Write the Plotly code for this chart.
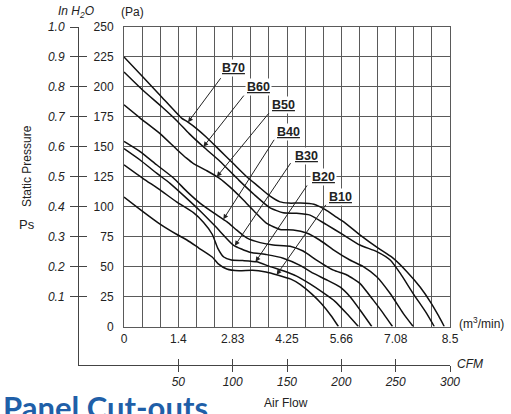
import numpy as np
import plotly.graph_objects as go

# ---------------- data ----------------
series_names = ["B70", "B60", "B50", "B40", "B30", "B20", "B10"]

b70_flow = [0, 0.5, 1.0, 1.5, 1.65, 1.9, 2.15, 2.5, 2.85, 3.2, 3.5, 3.8, 4.07, 4.3, 4.6, 4.95, 5.25, 5.55, 5.72, 6.15, 6.6, 7.0, 7.37, 7.72, 8.0, 8.2, 8.35]
b70_pa = [225, 208, 191, 174, 171, 165, 158, 147, 136, 125, 117, 109, 104, 103, 103, 102, 97.5, 91, 87.5, 76.5, 66, 57.5, 46, 33, 20, 9, 0]

b60_flow = [0, 0.5, 1.0, 1.37, 1.7, 2.07, 2.5, 3.0, 3.4, 3.81, 4.15, 4.5, 4.85, 5.28, 5.72, 6.15, 6.59, 6.94, 7.2, 7.54, 7.89, 8.09]
b60_pa = [212.5, 197, 183, 172, 161, 150, 138, 122, 110, 99, 95, 94.5, 93, 85, 76.5, 68, 62.5, 55.5, 44.5, 27.5, 11, 0]

b50_flow = [0, 0.42, 0.94, 1.37, 1.63, 1.81, 2.16, 2.5, 2.76, 3.1, 3.4, 3.72, 4.07, 4.41, 4.76, 5.11, 5.46, 5.89, 6.24, 6.59, 6.94, 7.28, 7.54]
b50_pa = [185, 174, 161, 148, 140.5, 136, 130, 123.5, 116.5, 106, 96, 86, 81, 80.5, 78, 72, 64, 55.5, 50, 41.5, 27.5, 11, 0]

b40_flow = [0, 0.42, 0.85, 1.29, 1.63, 1.98, 2.33, 2.68, 2.94, 3.2, 3.55, 3.89, 4.33, 4.67, 5.02, 5.46, 5.81, 6.15, 6.5, 6.76, 7.0]
b40_pa = [154.5, 146, 135, 124, 113, 103, 95, 87.5, 80.5, 74, 70, 68, 67, 63, 55.5, 47, 43, 36, 22, 11, 0]

b30_flow = [0, 0.42, 0.85, 1.2, 1.6, 2.0, 2.4, 2.85, 3.28, 3.72, 4.15, 4.59, 4.93, 5.28, 5.63, 5.89, 6.15, 6.46]
b30_pa = [148.5, 139, 128, 119.5, 108, 96, 83, 68, 62, 60, 57, 51, 44.5, 39, 33, 25, 14, 0]

b20_flow = [0, 0.5, 0.94, 1.37, 1.81, 2.07, 2.3, 2.45, 2.6, 2.8, 3.1, 3.46, 3.81, 4.15, 4.5, 4.85, 5.2, 5.5, 5.8, 6.11]
b20_pa = [135, 123.5, 114, 104, 95, 87, 77, 65, 58, 55.5, 55, 54, 50, 46.5, 42, 35.5, 28, 21, 11, 0]

b10_flow = [0, 0.45, 0.94, 1.37, 1.65, 1.95, 2.3, 2.45, 2.68, 3.0, 3.35, 3.7, 4.0, 4.35, 4.6, 4.9, 5.15, 5.4, 5.59]
b10_pa = [108, 97, 85.5, 77, 72, 65.5, 58, 52.5, 48, 46.5, 47, 45.5, 43, 39.5, 35, 27, 19, 9, 0]

m3_tick_labels = ["0", "1.4", "2.83", "4.25", "5.66", "7.08", "8.5"]
m3_max = 8.5
grid_steps = 18
pa_ticks = [0, 25, 50, 75, 100, 125, 150, 175, 200, 225, 250]
h2o_ticks = [0.1, 0.2, 0.3, 0.4, 0.5, 0.6, 0.7, 0.8, 0.9, 1.0]
cfm_ticks = [50, 100, 150, 200, 250, 300]

# ---------------- label placement (layout, not data) ----------------
label_text_pos = [(2.85, 215.5), (3.50, 200.2), (4.15, 184.9), (4.28, 162.6), (4.76, 142.6), (5.20, 124.5), (5.65, 108.3)]
leader_tail = [(2.55, 208.5), (3.155, 194), (3.81, 179.3), (3.94, 157.1), (4.37, 137.6), (4.80, 119), (5.29, 102.8)]
leader_tip_x = [1.67, 2.07, 2.42, 2.59, 2.89, 3.43, 3.98]

# ---------------- geometry (pixels) ----------------
W, H = 511, 414
L, R, T, B = 78, 61, 27, 49          # outer frame: left in-H2O axis, bottom CFM axis
plot_w = W - L - R
plot_h = H - T - B
x0_px = 124                          # x = 0 position
y0_px = 326.5                        # Pa = 0 position
xdom0 = (x0_px - L) / plot_w
ydom0 = (H - B - y0_px) / plot_h
pa_px = (y0_px - T)
y2_lo = -(H - B - y0_px) / pa_px
x2_lo = -(x0_px - L) / (W - R - x0_px) * 300

FONT = "Liberation Sans, Arial, sans-serif"
INK = "#222222"
GRID = "#5a5a5a"

series_data = [(b70_flow, b70_pa), (b60_flow, b60_pa), (b50_flow, b50_pa), (b40_flow, b40_pa),
               (b30_flow, b30_pa), (b20_flow, b20_pa), (b10_flow, b10_pa)]

fig = go.Figure()
for name, (fx, fy) in zip(series_names, series_data):
    fig.add_trace(go.Scatter(x=fx, y=fy, mode="lines", name=name, showlegend=False,
                             hoverinfo="skip",
                             line=dict(color="#111111", width=1.5, shape="spline", smoothing=0.5)))

# empty traces so that the auxiliary (in H2O / CFM) axes are drawn
for xa, ya in [("x2", "y2"), ("x3", "y2"), ("x2", "y3")]:
    fig.add_trace(go.Scatter(x=[None], y=[None], xaxis=xa, yaxis=ya, showlegend=False, hoverinfo="skip"))

grid_vals = [m3_max * i / grid_steps for i in range(grid_steps + 1)]
grid_text = [""] * len(grid_vals)
for k, lab in enumerate(m3_tick_labels):
    grid_text[k * 3] = lab

fig.update_layout(
    width=W, height=H,
    margin=dict(l=L, r=R, t=T, b=B, pad=0),
    paper_bgcolor="white", plot_bgcolor="rgba(0,0,0,0)",
    font=dict(family=FONT, color=INK, size=12),
    showlegend=False,
    xaxis=dict(domain=[xdom0, 1], range=[0, m3_max], anchor="y",
               tickmode="array", tickvals=grid_vals, ticktext=grid_text,
               showgrid=True, gridcolor=GRID, gridwidth=1, zeroline=False,
               showline=True, mirror=True, linecolor=GRID, linewidth=1,
               ticks="", tickfont=dict(size=12, color=INK), ticklabelstandoff=1),
    yaxis=dict(domain=[ydom0, 1], range=[0, 250], anchor="x",
               tickmode="array", tickvals=pa_ticks,
               showgrid=True, gridcolor=GRID, gridwidth=1, zeroline=False,
               showline=True, mirror=True, linecolor=GRID, linewidth=1,
               ticks="", tickfont=dict(size=12, color=INK), ticklabelstandoff=7),
    yaxis2=dict(domain=[0, 1], range=[y2_lo, 1.0], anchor="free", position=0, side="left",
                tickmode="array", tickvals=h2o_ticks, ticktext=[f"{v:.1f}" for v in h2o_ticks],
                showgrid=False, zeroline=False, showline=True, linecolor="#444444", linewidth=1,
                ticks="outside", ticklen=8, tickcolor="#444444", tickwidth=1,
                tickfont=dict(size=12, color=INK, style="italic"), ticklabelstandoff=3),
    yaxis3=dict(overlaying="y2", range=[y2_lo, 1.0], anchor="free", position=0, side="left",
                tickmode="array", tickvals=h2o_ticks, showticklabels=False,
                showgrid=False, zeroline=False, showline=False,
                ticks="inside", ticklen=8, tickcolor="#444444", tickwidth=1),
    xaxis2=dict(domain=[0, 1], range=[x2_lo, 300], anchor="free", position=0, side="bottom",
                tickmode="array", tickvals=cfm_ticks, ticktext=[str(v) for v in cfm_ticks],
                showgrid=False, zeroline=False, showline=True, linecolor="#444444", linewidth=1,
                ticks="outside", ticklen=6, tickcolor="#444444", tickwidth=1,
                tickfont=dict(size=12, color=INK, style="italic"), ticklabelstandoff=0),
    xaxis3=dict(overlaying="x2", range=[x2_lo, 300], anchor="free", position=0, side="bottom",
                tickmode="array", tickvals=cfm_ticks, showticklabels=False,
                showgrid=False, zeroline=False, showline=False,
                ticks="inside", ticklen=6, tickcolor="#444444", tickwidth=1),
)

annotations = []
for name, (fx, fy), (tx, ty), (ax_, ay_), tipx in zip(series_names, series_data, label_text_pos,
                                                      leader_tail, leader_tip_x):
    tipy = float(np.interp(tipx, fx, fy))
    annotations.append(dict(x=tipx, y=tipy, ax=ax_, ay=ay_, xref="x", yref="y", axref="x", ayref="y",
                            text="", showarrow=True, arrowhead=2, arrowsize=1, arrowwidth=1,
                            arrowcolor=INK, standoff=0, startstandoff=0))
    annotations.append(dict(x=tx, y=ty, xref="x", yref="y", text=f"<b><u>{name}</u></b>",
                            showarrow=False, bgcolor="white", borderpad=1,
                            font=dict(size=12.5, color=INK, family=FONT)))


def px_to_paper(px, py):
    return (px - L) / plot_w, (H - B - py) / plot_h


def add_text(text, px, py, size=12, style="normal", angle=0, xanchor="center", yanchor="middle",
             color=INK, family=FONT, weight="normal"):
    xp, yp = px_to_paper(px, py)
    annotations.append(dict(x=xp, y=yp, xref="paper", yref="paper", text=text, showarrow=False,
                            xanchor=xanchor, yanchor=yanchor, textangle=angle,
                            font=dict(size=size, color=color, family=family, style=style, weight=weight)))


add_text("In H<sub>2</sub>O", 76, 12, size=12, style="italic")
add_text("(Pa)", 132, 12, size=12)
add_text("Static Pressure", 27, 166, size=12, angle=-90)
add_text("Ps", 27, 224, size=13)
add_text("(m<sup>3</sup>/min)", 481, 323, size=12)
add_text("CFM", 470, 364, size=12, style="italic")
add_text("Air Flow", 286, 403, size=12)
add_text("Panel Cut-outs", 1, 386, size=31, xanchor="left", yanchor="top", color="#1f5fa8",
         family="Lato, Open Sans, sans-serif", weight="bold")

fig.update_layout(annotations=annotations)
fig.write_html("out.html", config={"displayModeBar": False},
               post_script="document.body.style.margin='0';document.body.style.padding='0';")
